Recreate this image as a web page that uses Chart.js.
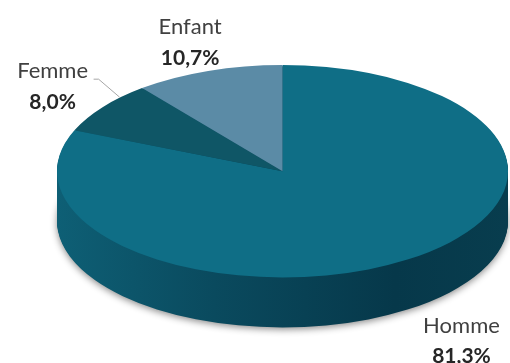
<!DOCTYPE html>
<html>
<head>
<meta charset="utf-8">
<script src="https://cdn.jsdelivr.net/npm/chart.js@4/dist/chart.umd.min.js"></script>
<style>
  html, body { margin: 0; padding: 0; background: #ffffff; }
  canvas { display: block; }
</style>
</head>
<body>
<canvas id="c" width="510" height="363"></canvas>
<script>
// Data
const categories = ['Homme', 'Femme', 'Enfant'];
const shares = [81.3, 8.0, 10.7];
const valueLabels = ['81,3%', '8,0%', '10,7%'];

// Styling
const topColors = ['#0f6e86', '#0f5666', '#5b8ba6'];
const TILT = 0.471;      // vertical squash of the pie disc
const DEPTH = 50;        // thickness of the disc, px
// label block offset from the projected middle of each slice: [dx, dy]
const labelOffsets = [[54, 66], [-50, -36], [-18, -44]];
const FONT_FAMILY = 'Lato, "Open Sans", sans-serif';

function pieView(chart) {
  const area = chart.chartArea;
  const arc = chart.getDatasetMeta(0).data[0];
  const rx = (area.right - area.left) / 2;
  const ry = rx * TILT;
  return {
    cx: (area.left + area.right) / 2,
    cy: area.top + ry,
    rx, ry,
    px: arc.x, py: arc.y, r: arc.outerRadius
  };
}

function applyView(ctx, v, dy) {
  ctx.translate(v.cx, v.cy + dy);
  ctx.scale(v.rx / v.r, v.ry / v.r);
  ctx.translate(-v.px, -v.py);
}

const pie3d = {
  id: 'pie3d',
  beforeDatasetsDraw(chart) {
    const ctx = chart.ctx;
    const arcs = chart.getDatasetMeta(0).data;
    const v = pieView(chart);

    // side wall: the disc repeated downwards in a dark, horizontally shaded tone
    const side = ctx.createLinearGradient(v.px - v.r, 0, v.px + v.r, 0);
    side.addColorStop(0, '#0e5f75');
    side.addColorStop(0.35, '#0a4a5e');
    side.addColorStop(0.75, '#06384a');
    side.addColorStop(1, '#083d4e');

    for (let d = DEPTH; d >= 1; d--) {
      ctx.save();
      applyView(ctx, v, d);
      if (d === DEPTH) {
        ctx.shadowColor = 'rgba(0,0,0,0.45)';
        ctx.shadowBlur = 7;
        ctx.shadowOffsetY = 2;
      }
      arcs.forEach(arc => {
        const keep = arc.options.backgroundColor;
        arc.options.backgroundColor = side;
        arc.draw(ctx);
        arc.options.backgroundColor = keep;
      });
      ctx.restore();
    }

    // top face drawn by the library inside the squashed view
    ctx.save();
    applyView(ctx, v, 0);
  },
  afterDatasetsDraw(chart) {
    chart.ctx.restore();
  },
  afterDraw(chart) {
    const ctx = chart.ctx;
    const arcs = chart.getDatasetMeta(0).data;
    const v = pieView(chart);
    ctx.save();
    ctx.textAlign = 'center';
    ctx.textBaseline = 'middle';
    arcs.forEach((arc, i) => {
      const a = (arc.startAngle + arc.endAngle) / 2;
      const mx = v.cx + v.rx * Math.cos(a);
      const my = v.cy + v.ry * Math.sin(a);
      const lx = mx + labelOffsets[i][0];
      const ly = my + labelOffsets[i][1];
      ctx.fillStyle = '#404040';
      ctx.font = '22px ' + FONT_FAMILY;
      ctx.fillText(categories[i], lx, ly);
      ctx.fillStyle = '#262626';
      ctx.font = 'bold 21px ' + FONT_FAMILY;
      ctx.fillText(valueLabels[i], lx, ly + 31);
      if (categories[i] === 'Femme') {
        // leader line from the label to the slice
        ctx.strokeStyle = '#a6a6a6';
        ctx.lineWidth = 1;
        ctx.beginPath();
        ctx.moveTo(lx + 41, ly + 8);
        ctx.lineTo(lx + 46, ly + 8);
        ctx.lineTo(mx + 17, my - 10);
        ctx.stroke();
      }
    });
    ctx.restore();
  }
};

new Chart(document.getElementById('c'), {
  type: 'pie',
  data: {
    labels: categories,
    datasets: [{
      data: shares,
      backgroundColor: topColors,
      borderWidth: 0,
      clip: false
    }]
  },
  options: {
    responsive: false,
    animation: false,
    events: [],
    layout: { padding: { left: 57, right: 2, top: 65, bottom: 100 } },
    plugins: {
      legend: { display: false },
      tooltip: { enabled: false }
    }
  },
  plugins: [pie3d]
});
</script>
</body>
</html>
